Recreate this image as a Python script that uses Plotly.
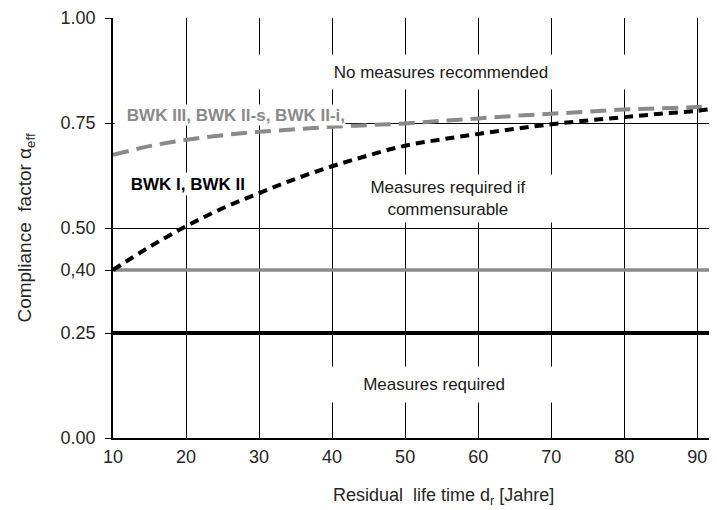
import plotly.graph_objects as go

# ---- data ----
life_years = [10, 15, 20, 25, 30, 35, 40, 45, 50, 55, 60, 65, 70, 75, 80, 85, 90, 92.7]
bwk_i_ii = [0.400, 0.455, 0.504, 0.547, 0.583, 0.617, 0.647, 0.673, 0.696, 0.711,
            0.724, 0.736, 0.747, 0.756, 0.764, 0.772, 0.779, 0.785]
bwk_iii = [0.674, 0.695, 0.710, 0.721, 0.729, 0.735, 0.741, 0.745, 0.749, 0.755,
           0.761, 0.767, 0.772, 0.777, 0.782, 0.785, 0.788, 0.792]
limit_x = [10, 92.7]
limit_required = [0.25, 0.25]
limit_commensurable = [0.40, 0.40]

x_ticks = [10, 20, 30, 40, 50, 60, 70, 80, 90]
y_ticks = [0.0, 0.25, 0.40, 0.50, 0.75, 1.00]
y_ticklabels = ["0.00", "0.25", "0,40", "0.50", "0.75", "1.00"]

GRAY = "#8a8a8a"
FONT = "Liberation Sans, Arial, sans-serif"

fig = go.Figure()
fig.add_trace(go.Scatter(x=limit_x, y=limit_commensurable, mode="lines",
                         line=dict(color=GRAY, width=3.5), showlegend=False))
fig.add_trace(go.Scatter(x=limit_x, y=limit_required, mode="lines",
                         line=dict(color="black", width=4), showlegend=False))
fig.add_trace(go.Scatter(x=life_years, y=bwk_iii, mode="lines",
                         line=dict(color=GRAY, width=4, dash="16px,8px", shape="spline"),
                         showlegend=False))
fig.add_trace(go.Scatter(x=life_years, y=bwk_i_ii, mode="lines",
                         line=dict(color="black", width=4, dash="9px,6px", shape="spline"),
                         showlegend=False))

ann_font = dict(family=FONT, size=17, color="#1a1a1a")
fig.add_annotation(x=54.9, y=0.871, text="No measures recommended", showarrow=False,
                   bgcolor="white", width=430, height=34, borderpad=0, font=ann_font)
fig.add_annotation(x=55.9, y=0.570, text="Measures required if<br>commensurable",
                   showarrow=False, bgcolor="white", width=220, height=47, borderpad=0,
                   font=ann_font)
fig.add_annotation(x=54.0, y=0.127, text="Measures required", showarrow=False,
                   bgcolor="white", width=280, height=35, borderpad=0, font=ann_font)
fig.add_annotation(x=26.0, y=0.769, text="<b>BWK III, BWK II-s, BWK II-i,</b>",
                   showarrow=False, bgcolor="white", width=230, height=20, borderpad=0,
                   align="right", font=dict(family=FONT, size=17, color=GRAY))
fig.add_annotation(x=19.2, y=0.605, text="<b>BWK I, BWK II</b>",
                   showarrow=False, bgcolor="white", width=130, height=22, borderpad=0,
                   align="right", font=dict(family=FONT, size=17, color="black"))
# x-axis title
fig.add_annotation(xref="paper", yref="paper", x=0.548, y=-0.14, yanchor="middle",
                   text="Residual  life time d<sub>r</sub> [Jahre]", showarrow=False,
                   font=dict(family=FONT, size=18, color="#262626"))

fig.update_layout(
    width=709, height=502,
    margin=dict(l=105, r=0, t=10, b=72),
    paper_bgcolor="white", plot_bgcolor="white",
    font=dict(family=FONT, color="#262626"),
    xaxis=dict(range=[10, 92.7], tickvals=x_ticks, showgrid=True, gridcolor="black",
               gridwidth=1, showline=True, linecolor="black", linewidth=2,
               ticks="", zeroline=False, tickfont=dict(size=18), automargin=False,
               ticklabelstandoff=1),
    yaxis=dict(range=[0, 1], tickvals=y_ticks, ticktext=y_ticklabels, showgrid=True,
               gridcolor="black", gridwidth=1, showline=True, linecolor="black",
               linewidth=1.5, ticks="outside", ticklen=6, tickcolor="black",
               zeroline=False, tickfont=dict(size=18), ticklabelstandoff=6,
               automargin=False,
               title=dict(text="Compliance  factor α<sub>eff</sub>",
                          font=dict(size=19), standoff=24)),
)

fig.write_html("out.html")
